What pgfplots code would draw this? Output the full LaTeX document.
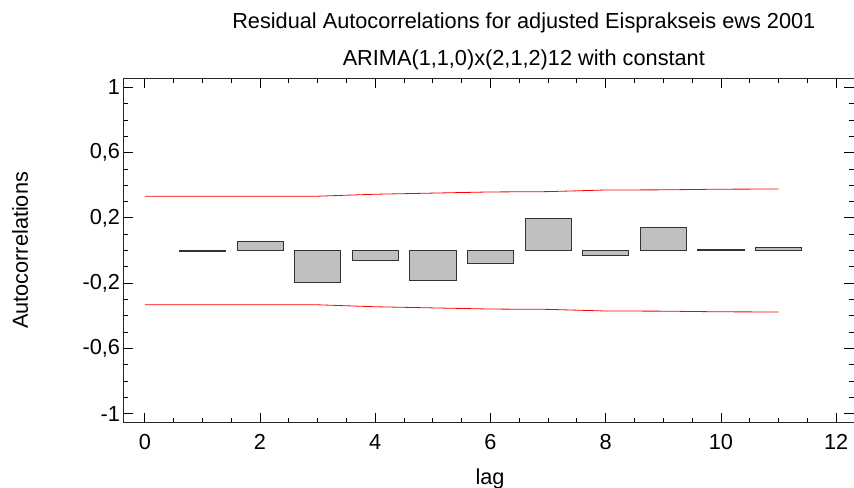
\documentclass[border=0pt]{standalone}
\usepackage{pgfplots}
\pgfplotsset{compat=1.18}
\usepackage{fontspec}
\setmainfont{Liberation Sans}
\definecolor{barfill}{HTML}{C0C0C0}
\begin{document}
\begin{tikzpicture}[x=1bp,y=1bp]
\begin{axis}[
  at={(123.5bp,65.3bp)}, anchor=south west,
  scale only axis, width=730.5bp, height=344.4bp,
  xmin=-0.37, xmax=12.31, ymin=-1.056, ymax=1.056,
  xtick={0,2,...,12}, minor x tick num=3,
  ytick={-1,-0.6,-0.2,0.2,0.6,1}, minor y tick num=3,
  tick align=inside,
  major tick length=10bp, minor tick length=5bp,
  every tick/.style={black, line width=0.8bp},
  axis line style={black!85, line width=1bp},
  /pgf/number format/assume math mode=true,
  font=\fontsize{21.8}{26}\selectfont,
  yticklabel style={/pgf/number format/.cd, use comma, fixed, precision=1},
  xticklabel style={yshift=-8bp},
  title={Residual Autocorrelations for adjusted Eisprakseis ews 2001\\ARIMA(1,1,0)x(2,1,2)12 with constant},
  title style={align=center, font=\fontsize{21.8}{37}\selectfont, at={(axis description cs:0.548,1.090)}, anchor=center},
  xlabel={lag}, ylabel={Autocorrelations},
  xlabel style={at={(axis description cs:0.5017,-0.1635)}, anchor=center},
  ylabel style={at={(axis description cs:-0.1417,0.5)}, anchor=center, rotate=0},
  clip=false,
]
\addplot[ybar, bar width=0.8, fill=barfill, draw=black!80, line width=0.8bp] coordinates {
 (1,-0.007) (2,0.055) (3,-0.195) (4,-0.063) (5,-0.184) (6,-0.08)
 (7,0.196) (8,-0.031) (9,0.143) (10,0.004) (11,0.017)
};
\addplot[red, line width=0.8bp, mark=none] coordinates {
 (0,0.333) (1,0.333) (2,0.333) (3,0.333) (4,0.345) (5,0.352) (6,0.359)
 (7,0.361) (8,0.371) (9,0.372) (10,0.376) (11,0.377)
};
\addplot[red, line width=0.8bp, mark=none] coordinates {
 (0,-0.333) (1,-0.333) (2,-0.333) (3,-0.333) (4,-0.345) (5,-0.352) (6,-0.359)
 (7,-0.361) (8,-0.371) (9,-0.372) (10,-0.376) (11,-0.377)
};
\end{axis}
\pgfresetboundingbox
\path[use as bounding box] (0,0) rectangle (854bp,488bp);
\end{tikzpicture}
\end{document}
